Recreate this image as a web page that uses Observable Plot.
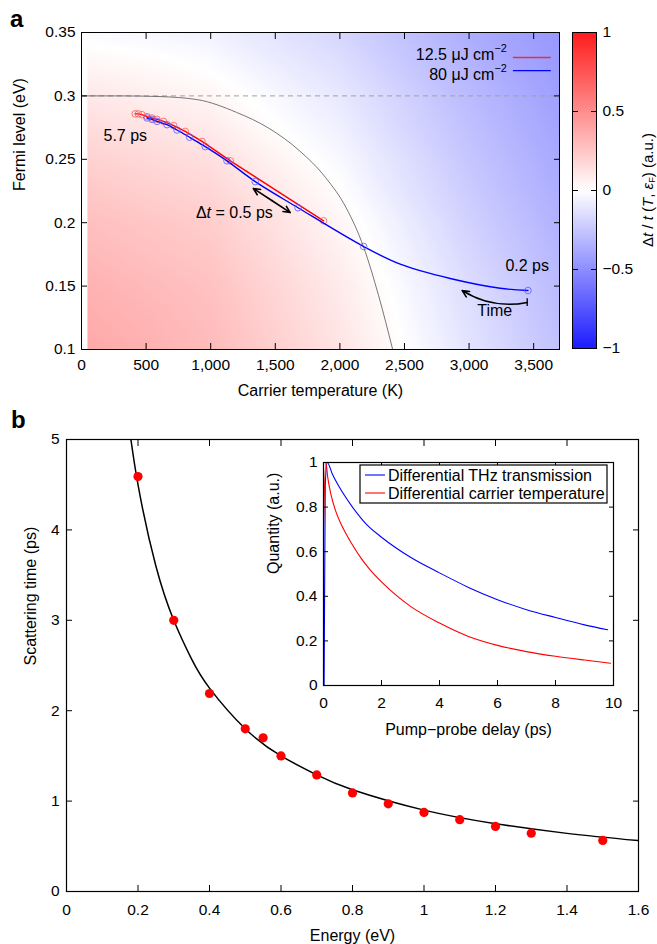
<!DOCTYPE html>
<html><head><meta charset="utf-8">
<script src="https://cdn.jsdelivr.net/npm/d3@7"></script>
<script src="https://cdn.jsdelivr.net/npm/@observablehq/plot@0.6"></script>
<style>
body{margin:0;background:#fff;}
#wrap{position:relative;width:657px;height:944px;}
</style></head><body><div id="wrap"></div>
<script>
const FONT = '"Liberation Sans", Arial, Helvetica, sans-serif';

// ---------- Panel a data ----------
const heatT = [46, 1000, 2000, 3000, 3700];
const heatF = [0.1, 0.15, 0.2, 0.25, 0.3, 0.35];
const heatRow010 = [0.38, 0.30, 0.12, -0.12, -0.27];
const heatRow015 = [0.34, 0.27, 0.09, -0.15, -0.30];
const heatRow020 = [0.28, 0.22, 0.04, -0.20, -0.34];
const heatRow025 = [0.20, 0.14, -0.03, -0.25, -0.38];
const heatRow030 = [0.10, 0.04, -0.10, -0.30, -0.42];
const heatRow035 = [-0.02, -0.06, -0.18, -0.36, -0.46];
const heatRows = [heatRow010, heatRow015, heatRow020, heatRow025, heatRow030, heatRow035];

const fermiT = [0, 300, 600, 900, 1200, 1450, 1690, 1890, 2050, 2184, 2300, 2408];
const fermiF = [0.3, 0.3, 0.2995, 0.297, 0.287, 0.2745, 0.2565, 0.2355, 0.2115, 0.1807, 0.1424, 0.1003];

const redT = [416, 440, 468, 507, 546, 584, 635, 713, 803, 933, 1152, 1874];
const redF = [0.2858, 0.2858, 0.2852, 0.2837, 0.2826, 0.2815, 0.2799, 0.2766, 0.2720, 0.2641, 0.2488, 0.2015];

const blueLineT = [507, 546, 584, 662, 739, 837, 958, 1126, 1345, 1676, 2184, 2467, 2854, 3241, 3456];
const blueLineF = [0.2826, 0.2815, 0.2799, 0.2773, 0.2731, 0.2674, 0.2600, 0.2488, 0.2324, 0.2118, 0.1812, 0.1673, 0.1560, 0.1483, 0.1465];
const blueCircT = [507, 546, 584, 662, 739, 837, 958, 1126, 1345, 1676, 2184, 3456];
const blueCircF = [0.2826, 0.2815, 0.2799, 0.2773, 0.2731, 0.2674, 0.2600, 0.2488, 0.2324, 0.2118, 0.1812, 0.1465];

const annotText = ["5.7 ps", "0.2 ps", "Time"];
const annotT = [339, 3450, 3199];
const annotF = [0.2688, 0.1662, 0.1308];
const dtArrowT = [1330, 1616];
const dtArrowF = [0.227, 0.208];
const dtLabelT = 1485, dtLabelF = 0.208;
const timeArrowT = [3450, 2947];
const timeArrowF = [0.1371, 0.1465];
const timeBarF = [0.1339, 0.1400];
const legendLineT = [3343, 3636];
const legendLineF = [0.3303, 0.3200];
const legendTextT = 3296;
const legendTextF = [0.3326, 0.3168];

const xTicksA = [0, 500, 1000, 1500, 2000, 2500, 3000, 3500];
const yTicksA = [0.1, 0.15, 0.2, 0.25, 0.3, 0.35];
const cbTicks = [-1, -0.5, 0, 0.5, 1];

// ---------- Panel b data ----------
const energy = [0.2, 0.3, 0.4, 0.5, 0.55, 0.6, 0.7, 0.8, 0.9, 1.0, 1.1, 1.2, 1.3, 1.5];
const scatTime = [4.59, 3.0, 2.19, 1.80, 1.70, 1.50, 1.29, 1.09, 0.97, 0.875, 0.795, 0.72, 0.645, 0.565];
const fitE = [0.17, 0.2, 0.25, 0.3, 0.35, 0.4, 0.5, 0.6, 0.7, 0.8, 1.0, 1.2, 1.4, 1.6];
const fitTau = [5.3, 4.5, 3.6, 3.0, 2.57, 2.25, 1.8, 1.5, 1.29, 1.125, 0.9, 0.75, 0.643, 0.5625];
const xTicksB = [0, 0.2, 0.4, 0.6, 0.8, 1, 1.2, 1.4, 1.6];
const yTicksB = [0, 1, 2, 3, 4, 5];

// Inset
const delayBlue = [0.02, 0.06, 0.13, 0.3, 0.5, 1, 1.5, 2, 3, 4, 5, 6, 7, 8, 9, 9.8];
const thzBlue = [0, 0.9, 1.0, 0.95, 0.9, 0.8, 0.72, 0.665, 0.575, 0.505, 0.44, 0.385, 0.34, 0.305, 0.272, 0.25];
const delayRed = [0, 0.08, 0.15, 0.25, 0.4, 0.6, 0.8, 1, 1.3, 1.6, 2, 2.5, 3, 4, 5, 6, 7, 8, 9, 9.9];
const tempRed = [0.72, 1, 0.93, 0.86, 0.79, 0.725, 0.675, 0.63, 0.57, 0.52, 0.465, 0.405, 0.355, 0.28, 0.22, 0.18, 0.152, 0.131, 0.114, 0.1];
const xTicksI = [0, 2, 4, 6, 8, 10];
const yTicksI = [0, 0.2, 0.4, 0.6, 0.8, 1];
const insetLegend = ["Differential THz transmission", "Differential carrier temperature"];

// ---------- helpers ----------
const fmt = d => String(Math.round(d * 1000) / 1000).replace("-", "\u2212");
const blank = () => "";
function boxAxes(xt, yt, {xfmt = fmt, yfmt = fmt, len = 6, gapX = 9, gapY = 6} = {}) {
  return [
    Plot.axisX(xt, {anchor: "bottom", tickSize: -len, tickPadding: gapX + len, tickFormat: xfmt, label: null}),
    Plot.axisX(xt, {anchor: "top", tickSize: -len, tickFormat: blank, label: null}),
    Plot.axisY(yt, {anchor: "left", tickSize: -len, tickPadding: gapY + len, tickFormat: yfmt, label: null}),
    Plot.axisY(yt, {anchor: "right", tickSize: -len, tickFormat: blank, label: null})
  ];
}
function rich(svg, x, y, parts, {anchor = "start", rotate = 0, size = 16, weight = "normal", baseline = "central"} = {}) {
  const t = d3.select(svg).append("text")
    .attr("transform", `translate(${x},${y}) rotate(${rotate})`)
    .attr("text-anchor", anchor).attr("dominant-baseline", baseline)
    .attr("font-size", size).attr("font-family", FONT).attr("font-weight", weight).attr("fill", "black");
  for (const [s, k] of parts) {
    const ts = t.append("tspan").text(s);
    const kinds = k.split(" ");
    if (kinds.includes("i")) ts.attr("font-style", "italic");
    if (kinds.includes("sup")) ts.attr("baseline-shift", "super").attr("font-size", size * 0.68);
    if (kinds.includes("sub")) ts.attr("baseline-shift", "sub").attr("font-size", size * 0.62);
  }
  return t;
}
function place(el, left, top) {
  el.style.position = "absolute";
  el.style.left = left + "px";
  el.style.top = top + "px";
  el.style.overflow = "visible";
  document.getElementById("wrap").appendChild(el);
}
const baseStyle = {fontFamily: FONT, fontSize: "15.5px", background: "transparent", color: "black"};
const colorScale = {type: "linear", domain: [-1, 0, 1], range: ["#1c1cff", "#ffffff", "#ff1c1c"], interpolate: "rgb"};

// ---------- Panel a ----------
const heatData = [];
heatRows.forEach((row, j) => row.forEach((v, i) => heatData.push({T: heatT[i], F: heatF[j], v})));
const fermiData = fermiT.map((T, i) => ({T, F: fermiF[i]}));
const redData = redT.map((T, i) => ({T, F: redF[i]}));
const blueLine = blueLineT.map((T, i) => ({T, F: blueLineF[i]}));
const blueCirc = blueCircT.map((T, i) => ({T, F: blueCircF[i]}));
const dtMid = {T: (dtArrowT[0] + dtArrowT[1]) / 2, F: (dtArrowF[0] + dtArrowF[1]) / 2};

const plotA = Plot.plot({
  width: 620, height: 405,
  marginLeft: 81, marginRight: 61, marginTop: 32, marginBottom: 56,
  x: {domain: [0, 3700]}, y: {domain: [0.1, 0.35]},
  color: colorScale,
  style: baseStyle,
  marks: [
    Plot.raster(heatData, {x: "T", y: "F", fill: "v", interpolate: "barycentric", x1: heatT[0], x2: 3700, y1: 0.1, y2: 0.35}),
    Plot.ruleY([0.3], {stroke: "#a0a0a0", strokeWidth: 1, strokeDasharray: "5,4"}),
    Plot.line(fermiData, {x: "T", y: "F", curve: "monotone-x", stroke: "#555", strokeWidth: 0.8, clip: true}),
    Plot.line(redData, {x: "T", y: "F", stroke: "#ff0000", strokeWidth: 1.4}),
    Plot.dot(redData, {x: "T", y: "F", r: 3.3, stroke: "#ff5a5a", strokeWidth: 0.8, fill: "none"}),
    Plot.line(blueLine, {x: "T", y: "F", curve: "catmull-rom", stroke: "#0000ff", strokeWidth: 1.4}),
    Plot.dot(blueCirc, {x: "T", y: "F", r: 3.3, stroke: "#5a5aff", strokeWidth: 0.8, fill: "none"}),
    Plot.text(annotText, {x: (d, i) => annotT[i], y: (d, i) => annotF[i], text: d => d, fontSize: 16, textAnchor: "middle", lineAnchor: "middle"}),
    Plot.arrow([0, 1], {x1: dtMid.T, y1: dtMid.F, x2: i => dtArrowT[i], y2: i => dtArrowF[i], stroke: "black", strokeWidth: 1.6, headLength: 7, headAngle: 50}),
    Plot.arrow([0], {x1: timeArrowT[0], y1: timeArrowF[0], x2: timeArrowT[1], y2: timeArrowF[1], bend: 22, stroke: "black", strokeWidth: 1.6, headLength: 7, headAngle: 50}),
    Plot.ruleX([timeArrowT[0]], {y1: timeBarF[0], y2: timeBarF[1], stroke: "black", strokeWidth: 1.3}),
    Plot.ruleY([legendLineF[0]], {x1: legendLineT[0], x2: legendLineT[1], stroke: "#e8303a", strokeWidth: 1.3}),
    Plot.ruleY([legendLineF[1]], {x1: legendLineT[0], x2: legendLineT[1], stroke: "#0000ff", strokeWidth: 1.3}),
    ...boxAxes(xTicksA, yTicksA, {xfmt: d3.format(","), gapX: 9, gapY: 6}),
    Plot.frame({stroke: "black", strokeWidth: 1}),
    Plot.text(["Carrier temperature (K)"], {frameAnchor: "bottom", dy: 41, fontSize: 16, lineAnchor: "middle"}),
    Plot.text(["Fermi level (eV)"], {frameAnchor: "left", dx: -62, rotate: -90, fontSize: 16, lineAnchor: "middle"})
  ]
});
{
  const sx = plotA.scale("x"), sy = plotA.scale("y");
  rich(plotA, sx.apply(legendTextT), sy.apply(legendTextF[0]), [["12.5 \u03bcJ cm", ""], ["\u22122", "sup"]], {anchor: "end"});
  rich(plotA, sx.apply(legendTextT), sy.apply(legendTextF[1]), [["80 \u03bcJ cm", ""], ["\u22122", "sup"]], {anchor: "end"});
  rich(plotA, sx.apply(dtLabelT), sy.apply(dtLabelF), [["\u0394", ""], ["t", "i"], [" = 0.5 ps", ""]], {anchor: "end"});
  rich(plotA, 10, 27, [["a", ""]], {size: 24, weight: "bold", baseline: "auto"});
}
place(plotA, 0, 0);

// ---------- Colour bar ----------
const plotCB = Plot.plot({
  width: 97, height: 405,
  marginLeft: 12, marginRight: 61, marginTop: 32, marginBottom: 57,
  x: {domain: [0, 1], axis: null}, y: {domain: [-1, 1]},
  color: colorScale,
  style: baseStyle,
  marks: [
    Plot.raster({fill: (x, y) => y, x1: 0, x2: 1, y1: -1, y2: 1}),
    Plot.axisY(cbTicks, {anchor: "left", tickSize: -6, tickFormat: blank, label: null}),
    Plot.axisY(cbTicks, {anchor: "right", tickSize: -6, tickPadding: 12, tickFormat: fmt, label: null, textAnchor: "start"}),
    Plot.frame({stroke: "black", strokeWidth: 1})
  ]
});
rich(plotCB, 87, 190, [["\u0394", ""], ["t", "i"], [" / ", ""], ["t", "i"], [" (", ""], ["T", "i"], [", ", ""], ["\u03b5", "i"], ["F", "sub"], [") (a.u.)", ""]], {anchor: "middle", rotate: -90, size: 15});
place(plotCB, 560, 0);

// ---------- Panel b ----------
const scatData = energy.map((E, i) => ({E, t: scatTime[i]}));
const fitData = fitE.map((E, i) => ({E, t: fitTau[i]}));
const plotB = Plot.plot({
  width: 657, height: 544,
  marginLeft: 66, marginRight: 19, marginTop: 39, marginBottom: 53,
  x: {domain: [0, 1.6]}, y: {domain: [0, 5]},
  style: baseStyle,
  marks: [
    Plot.line(fitData, {x: "E", y: "t", curve: "natural", stroke: "black", strokeWidth: 1.5, clip: true}),
    Plot.dot(scatData, {x: "E", y: "t", r: 4.6, fill: "#ff0000"}),
    ...boxAxes(xTicksB, yTicksB, {gapX: 12, gapY: 7}),
    Plot.frame({stroke: "black", strokeWidth: 1.2}),
    Plot.text(["Energy (eV)"], {frameAnchor: "bottom", dy: 44, fontSize: 16, lineAnchor: "middle"}),
    Plot.text(["Scattering time (ps)"], {frameAnchor: "left", dx: -36, rotate: -90, fontSize: 16, lineAnchor: "middle"})
  ]
});
rich(plotB, 11, 28, [["b", ""]], {size: 24, weight: "bold", baseline: "auto"});
place(plotB, 0, 400);

// ---------- Inset ----------
const blueI = delayBlue.map((t, i) => ({t, q: thzBlue[i]}));
const redI = delayRed.map((t, i) => ({t, q: tempRed[i]}));
const plotI = Plot.plot({
  width: 400, height: 310,
  marginLeft: 73, marginRight: 37, marginTop: 22, marginBottom: 65,
  x: {domain: [0, 10]}, y: {domain: [0, 1]},
  style: baseStyle,
  marks: [
    Plot.frame({fill: "white"}),
    Plot.line(blueI, {x: "t", y: "q", curve: "monotone-x", stroke: "#0000ff", strokeWidth: 1.1}),
    Plot.line(redI, {x: "t", y: "q", curve: "monotone-x", stroke: "#ff0000", strokeWidth: 1.1}),
    ...boxAxes(xTicksI, yTicksI, {len: 5, gapX: 11, gapY: 6}),
    Plot.frame({stroke: "black", strokeWidth: 1.2}),
    Plot.text(["Pump\u2212probe delay (ps)"], {frameAnchor: "bottom", dy: 44, fontSize: 16, lineAnchor: "middle"}),
    Plot.text(["Quantity (a.u.)"], {frameAnchor: "left", dx: -50, rotate: -90, fontSize: 16, lineAnchor: "middle"})
  ]
});
{
  const g = d3.select(plotI).append("g");
  const L = 73, T = 22;
  g.append("rect").attr("x", L + 37).attr("y", T + 3).attr("width", 247).attr("height", 38)
    .attr("fill", "white").attr("stroke", "black").attr("stroke-width", 1.2);
  const cols = ["#0000ff", "#ff0000"];
  insetLegend.forEach((s, i) => {
    const yy = T + 13 + i * 18;
    g.append("line").attr("x1", L + 42).attr("x2", L + 62).attr("y1", yy).attr("y2", yy)
      .attr("stroke", cols[i]).attr("stroke-width", 1.1);
    rich(plotI, L + 65, yy, [[s, ""]], {size: 16});
  });
}
place(plotI, 250, 440);
</script></body></html>
